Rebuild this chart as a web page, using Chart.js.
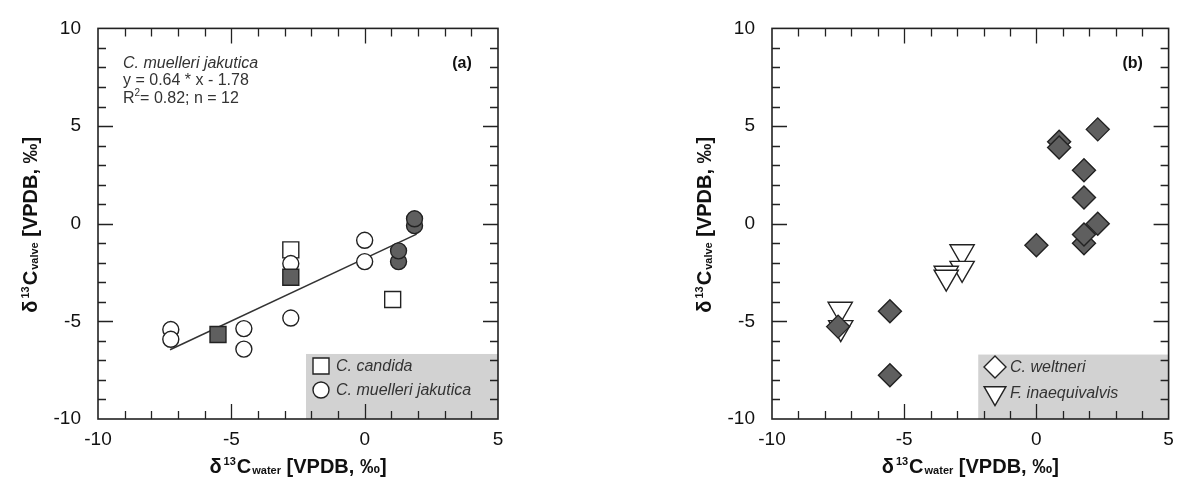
<!DOCTYPE html>
<html>
<head>
<meta charset="utf-8">
<script src="https://cdn.jsdelivr.net/npm/chart.js@4/dist/chart.umd.min.js"></script>
<style>
  body { margin: 0; background: #fff; }
  .panel { position: absolute; top: 0; height: 488px; }
  #panelA { left: 0; width: 520px; }
  #panelB { left: 674px; width: 510px; }
</style>
</head>
<body>
<div class="panel" id="panelA"><canvas id="chartA"></canvas></div>
<div class="panel" id="panelB"><canvas id="chartB"></canvas></div>
<script>
// axis tick labels (both panels)
const xTickValues = [-10, -5, 0, 5];
const yTickValues = [-10, -5, 0, 5, 10];

// panel (a): d13C valve vs d13C water
const candidaOpen = [{ x: -2.77, y: -1.34 }, { x: 1.05, y: -3.88 }];
const candidaFilled = [{ x: -2.77, y: -2.74 }, { x: -5.5, y: -5.67 }];
const muelleriOpen = [
  { x: 0, y: -0.85 }, { x: 0, y: -1.94 }, { x: -2.77, y: -2.04 }, { x: -2.77, y: -4.83 },
  { x: -7.27, y: -5.42 }, { x: -7.27, y: -5.92 }, { x: -4.53, y: -5.37 }, { x: -4.53, y: -6.42 }
];
const muelleriFilled = [{ x: 1.87, y: -0.1 }, { x: 1.87, y: 0.25 }, { x: 1.27, y: -1.94 }, { x: 1.27, y: -1.39 }];

// regression for C. muelleri jakutica
const fitSlope = 0.64;
const fitIntercept = -1.78;
const fitR2 = 0.82;
const fitN = 12;
const fitRange = [-7.3, 1.95];

// panel (b)
const weltneri = [
  { x: 2.32, y: 4.83 }, { x: 0.86, y: 4.2 }, { x: 0.86, y: 3.9 }, { x: 1.8, y: 2.74 },
  { x: 1.8, y: 1.34 }, { x: 2.32, y: 0 }, { x: 1.8, y: -1.0 }, { x: 1.8, y: -0.55 },
  { x: 0, y: -1.1 }, { x: -7.5, y: -5.27 }, { x: -5.54, y: -4.48 }, { x: -5.54, y: -7.76 }
];
const inaequivalvis = [
  { x: -2.81, y: -1.44 }, { x: -2.81, y: -2.29 }, { x: -3.41, y: -2.54 }, { x: -3.41, y: -2.74 },
  { x: -7.42, y: -4.38 }, { x: -7.4, y: -5.32 }
];

const INK = '#222';
const DARK = '#5f5f5f';
const SHADE = '#d2d2d2';
const FONT = '"Liberation Sans", Arial, sans-serif';

function markerShape(ctx, style, x, y, r, rot) {
  ctx.beginPath();
  if (style === 'circle') {
    ctx.arc(x, y, r, 0, Math.PI * 2);
  } else if (style === 'rect') {
    const h = r * Math.SQRT1_2;
    ctx.rect(x - h, y - h, 2 * h, 2 * h);
  } else if (style === 'rectRot') {
    ctx.moveTo(x - r, y); ctx.lineTo(x, y - r); ctx.lineTo(x + r, y); ctx.lineTo(x, y + r);
    ctx.closePath();
  } else if (style === 'triangle') {
    let a = (rot || 0) * Math.PI / 180;
    ctx.moveTo(x + Math.sin(a) * r, y - Math.cos(a) * r);
    for (let i = 0; i < 2; i++) {
      a += Math.PI * 2 / 3;
      ctx.lineTo(x + Math.sin(a) * r, y - Math.cos(a) * r);
    }
    ctx.closePath();
  }
}

// draws a run of text pieces with their own font and baseline shift
function richText(ctx, parts, cx, cy) {
  let w = 0;
  parts.forEach(p => { ctx.font = p.font; w += ctx.measureText(p.t).width + (p.gap || 0); });
  let x = cx - w / 2;
  ctx.textAlign = 'left';
  ctx.textBaseline = 'middle';
  parts.forEach(p => {
    ctx.font = p.font;
    ctx.fillText(p.t, x, cy + (p.dy || 0));
    x += ctx.measureText(p.t).width + (p.gap || 0);
  });
}

function axisTitle(sub) {
  return [
    { t: 'δ', font: `bold 20px ${FONT}`, gap: 2 },
    { t: '13', font: `bold 11px ${FONT}`, dy: -5, gap: 1 },
    { t: 'C', font: `bold 20px ${FONT}`, gap: 1 },
    { t: sub, font: `bold 11px ${FONT}`, dy: 4, gap: 0 },
    { t: ' [VPDB, ‰]', font: `bold 20px ${FONT}` }
  ];
}

const panelPlugin = {
  id: 'panel',
  beforeDatasetsDraw(chart, args, opts) {
    const { ctx, scales: { x, y } } = chart;
    const l = x.getPixelForValue(opts.shadeFrom[0]);
    const t = y.getPixelForValue(opts.shadeFrom[1]);
    const r = x.getPixelForValue(x.max);
    const b = y.getPixelForValue(y.min);
    ctx.save();
    ctx.fillStyle = SHADE;
    ctx.fillRect(l, t, r - l, b - t);
    ctx.restore();
  },
  afterDatasetsDraw(chart, args, opts) {
    const { ctx, chartArea: ca, scales: { x, y } } = chart;
    ctx.save();
    // inward ticks on all four sides
    ctx.strokeStyle = INK;
    ctx.lineWidth = 1.3;
    ctx.beginPath();
    for (let v = x.min + 1; v < x.max; v++) {
      const px = Math.round(x.getPixelForValue(v)) + 0.5;
      const len = v % 5 === 0 ? 15 : 8;
      ctx.moveTo(px, ca.bottom); ctx.lineTo(px, ca.bottom - len);
      ctx.moveTo(px, ca.top); ctx.lineTo(px, ca.top + len);
    }
    for (let v = y.min + 1; v < y.max; v++) {
      const py = Math.round(y.getPixelForValue(v)) + 0.5;
      const len = v % 5 === 0 ? 15 : 8;
      ctx.moveTo(ca.left, py); ctx.lineTo(ca.left + len, py);
      ctx.moveTo(ca.right, py); ctx.lineTo(ca.right - len, py);
    }
    ctx.stroke();
    ctx.lineWidth = 1.6;
    ctx.strokeRect(ca.left, ca.top, ca.right - ca.left, ca.bottom - ca.top);

    // legend inside the shaded corner
    opts.legend.forEach((item, i) => {
      const mx = ca.left + 223;
      const my = ca.bottom - item.up;
      ctx.fillStyle = '#fff';
      ctx.strokeStyle = INK;
      ctx.lineWidth = 1.4;
      markerShape(ctx, item.style, mx, my, item.radius, item.rotation);
      ctx.fill(); ctx.stroke();
      ctx.fillStyle = '#333';
      ctx.font = `italic 16px ${FONT}`;
      ctx.textAlign = 'left';
      ctx.textBaseline = 'middle';
      ctx.fillText(item.label, mx + 15, my + 1);
    });

    // panel letter
    ctx.fillStyle = '#111';
    ctx.font = `bold 16px ${FONT}`;
    ctx.textAlign = 'center';
    ctx.textBaseline = 'middle';
    ctx.fillText(opts.letter, ca.right - 36, ca.top + 35);

    // regression annotation
    if (opts.fit) {
      const tx = ca.left + 25;
      ctx.fillStyle = '#333';
      ctx.textAlign = 'left';
      ctx.font = `italic 16px ${FONT}`;
      ctx.fillText('C. muelleri jakutica', tx, ca.top + 35);
      ctx.font = `16px ${FONT}`;
      const sign = fitIntercept < 0 ? '-' : '+';
      ctx.fillText(`y = ${fitSlope.toFixed(2)} * x ${sign} ${Math.abs(fitIntercept).toFixed(2)}`, tx, ca.top + 52.5);
      ctx.fillText('R', tx, ca.top + 70);
      const rw = ctx.measureText('R').width;
      ctx.font = `10px ${FONT}`;
      ctx.fillText('2', tx + rw, ca.top + 65);
      const sw = ctx.measureText('2').width;
      ctx.font = `16px ${FONT}`;
      ctx.fillText(`= ${fitR2.toFixed(2)}; n = ${fitN}`, tx + rw + sw, ca.top + 70);
    }
    ctx.restore();
  },
  afterDraw(chart) {
    const { ctx, chartArea: ca } = chart;
    ctx.save();
    ctx.fillStyle = '#111';
    richText(ctx, axisTitle('water'), (ca.left + ca.right) / 2, 467);
    ctx.translate(31, (ca.top + ca.bottom) / 2 + 1);
    ctx.rotate(-Math.PI / 2);
    richText(ctx, axisTitle('valve'), 0, 0);
    ctx.restore();
  }
};

function pointSet(data, style, fill, radius, order, rotation) {
  return {
    data,
    pointStyle: style,
    pointRadius: radius,
    pointRotation: rotation || 0,
    backgroundColor: fill,
    borderColor: INK,
    borderWidth: 1.4,
    order
  };
}

function scaleOptions(padRight) {
  return {
    x: {
      type: 'linear', min: -10, max: 5,
      afterBuildTicks: s => { s.ticks = xTickValues.map(v => ({ value: v })); },
      afterFit: s => { s.height = 69; },
      grid: { display: false, drawTicks: false },
      border: { display: false },
      ticks: { padding: 9, color: '#111', font: { family: FONT, size: 19 } }
    },
    y: {
      type: 'linear', min: -10, max: 10,
      afterBuildTicks: s => { s.ticks = yTickValues.map(v => ({ value: v })); },
      afterFit: s => { s.width = 98; },
      grid: { display: false, drawTicks: false },
      border: { display: false },
      ticks: { padding: 17, color: '#111', font: { family: FONT, size: 19 } }
    }
  };
}

function makeChart(id, datasets, padRight, panelOpts) {
  return new Chart(document.getElementById(id), {
    type: 'scatter',
    data: { datasets },
    options: {
      responsive: true,
      maintainAspectRatio: false,
      animation: false,
      layout: { padding: { top: 17, right: padRight, left: 0, bottom: 0 } },
      scales: scaleOptions(padRight),
      plugins: { legend: { display: false }, tooltip: { enabled: false }, panel: panelOpts }
    },
    plugins: [panelPlugin]
  });
}

const fitLine = fitRange.map(v => ({ x: v, y: fitSlope * v + fitIntercept }));

makeChart('chartA', [
  pointSet(muelleriFilled, 'circle', DARK, 8, 1),
  pointSet(candidaFilled, 'rect', DARK, 11.3, 2),
  pointSet(muelleriOpen, 'circle', '#fff', 8, 3),
  pointSet(candidaOpen, 'rect', '#fff', 11.3, 4),
  { data: fitLine, showLine: true, pointRadius: 0, borderColor: '#333', borderWidth: 1.5, order: 10 }
], 22, {
  letter: '(a)',
  fit: true,
  shadeFrom: [-2.2, -6.67],
  legend: [
    { label: 'C. candida', style: 'rect', radius: 11.3, up: 53 },
    { label: 'C. muelleri jakutica', style: 'circle', radius: 8, up: 29 }
  ]
});

makeChart('chartB', [
  pointSet(weltneri, 'rectRot', DARK, 11.5, 1),
  pointSet(inaequivalvis, 'triangle', '#fff', 14, 2, 180)
], 11, {
  letter: '(b)',
  fit: false,
  shadeFrom: [-2.2, -6.7],
  legend: [
    { label: 'C. weltneri', style: 'rectRot', radius: 11, up: 52 },
    { label: 'F. inaequivalvis', style: 'triangle', radius: 12.6, rotation: 180, up: 26 }
  ]
});
</script>
</body>
</html>
